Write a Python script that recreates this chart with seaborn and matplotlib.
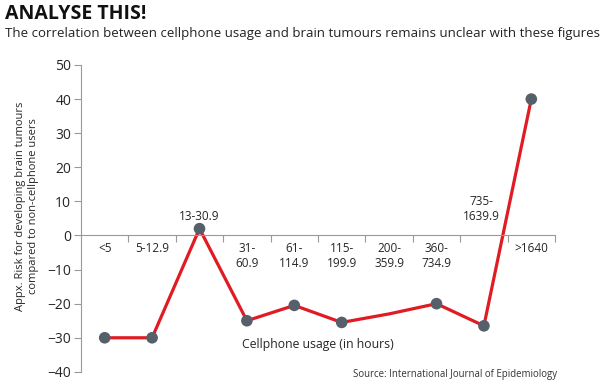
import numpy as np
import pandas as pd
import seaborn as sns
import matplotlib.pyplot as plt

categories = ["<5", "5-12.9", "13-30.9", "31-60.9", "61-114.9", "115-199.9",
              "200-359.9", "360-734.9", "735-1639.9", ">1640"]
tick_labels = ["<5", "5-12.9", "13-30.9", "31-\n60.9", "61-\n114.9", "115-\n199.9",
               "200-\n359.9", "360-\n734.9", "735-\n1639.9", ">1640"]
risk = [-30, -30, 2, -25, -20.5, -25.5, -23, -20, -26.5, 40]
has_marker = [True, True, True, True, True, True, False, True, True, True]
above = ["13-30.9", "735-1639.9"]

sns.set_theme(style="white")
plt.rcParams['font.family'] = ['Open Sans', 'DejaVu Sans']

df = pd.DataFrame({"pos": np.arange(len(categories)), "risk": risk, "marker": has_marker})

fig = plt.figure(figsize=(6.0, 3.89), dpi=100)
ax = fig.add_axes([0.135, 0.044, 0.79, 0.789])

sns.lineplot(data=df, x="pos", y="risk", color="#e01b23", linewidth=2.3, ax=ax, sort=False)
sns.scatterplot(data=df[df["marker"]], x="pos", y="risk", color="#56606b", s=70,
                edgecolor="none", zorder=5, ax=ax)

ax.set_xlim(-0.5, len(categories) - 0.5)
ax.set_ylim(-40, 50)
ax.set_yticks(np.arange(-40, 51, 10))
ax.tick_params(axis="y", labelsize=10, length=5, width=0.8, color="#999999", pad=2, left=True)

ax.spines["right"].set_visible(False)
ax.spines["top"].set_visible(False)
ax.spines["bottom"].set_position(("data", 0))
for s in ["left", "bottom"]:
    ax.spines[s].set_color("#999999")
    ax.spines[s].set_linewidth(0.8)

ax.set_xticks(np.arange(len(categories)))
ax.set_xticklabels([("" if c in above else t) for c, t in zip(categories, tick_labels)],
                   va="top", linespacing=1.2)
ax.tick_params(axis="x", labelsize=8.5, length=0, pad=5)
ax.set_xticks(np.arange(len(categories)) + 0.5, minor=True)
ax.tick_params(axis="x", which="minor", length=5, width=0.8, color="#999999", bottom=True, direction="out")

for c in above:
    i = categories.index(c)
    lab = tick_labels[i]
    ax.annotate(lab, (i, 0), xytext=(-2 if i == 8 else 0, 9), textcoords="offset points",
                ha="center", va="bottom", fontsize=8.5, linespacing=1.2)

ax.set_xlabel("")
ax.set_ylabel("")
ax.text(0.5, 0.088, "Cellphone usage (in hours)", transform=ax.transAxes,
        ha="center", va="center", fontsize=8.8)
fig.text(0.045, 0.47, "Appx. Risk for developing brain tumours\ncompared to non-cellphone users",
         rotation=90, ha="center", va="center", fontsize=8.0, linespacing=1.25)

fig.text(0.008, 0.965, "ANALYSE THIS!", fontsize=14, fontweight="bold", ha="left", va="center",
         color="#111111")
fig.text(0.008, 0.915, "The correlation between cellphone usage and brain tumours remains unclear with these figures",
         fontsize=9.55, ha="left", va="center", color="#222222")
fig.text(0.928, 0.038, "Source: International Journal of Epidemiology", fontsize=6.9,
         ha="right", va="center", color="#333333")

fig.savefig("out.png", dpi=100)
